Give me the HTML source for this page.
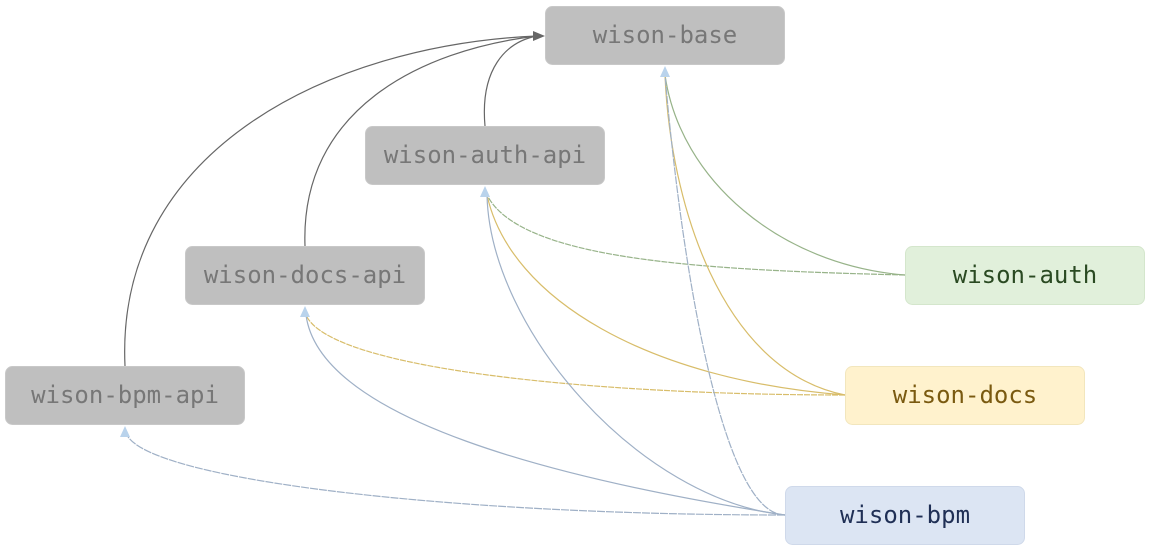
<!DOCTYPE html>
<html><head><meta charset="utf-8"><style>
html,body{margin:0;padding:0;background:#fff;width:1150px;height:550px;overflow:hidden}
text{font-family:"DejaVu Sans Mono","Liberation Mono",monospace;font-size:24px;text-anchor:middle;dominant-baseline:central}
</style></head><body>
<svg width="1150" height="550" viewBox="0 0 1150 550" xmlns="http://www.w3.org/2000/svg">
<g fill="none" stroke-width="1.2">
<path d="M125,366 C115,150 330,45 537,36" stroke="#666"/>
<path d="M305,246 C300,110 420,50 537,36" stroke="#666"/>
<path d="M485,126 C480,70 505,42 537,36" stroke="#666"/>
<path d="M905,275 C780,265 680,180 665,75" stroke="#97b389"/>
<path d="M905,275 C700,270 520,260 487,195" stroke="#97b389" stroke-dasharray="6,1"/>
<path d="M845,395 C720,370 670,200 665,75" stroke="#d8bd6a"/>
<path d="M845,395 C650,380 510,300 487,195" stroke="#d8bd6a"/>
<path d="M845,395 C600,395 330,370 306,315" stroke="#d8bd6a" stroke-dasharray="6,1"/>
<path d="M785,515 C720,515 680,250 665,75" stroke="#9fb0c6" stroke-dasharray="8,1"/>
<path d="M785,515 C640,500 490,330 487,195" stroke="#9fb0c6"/>
<path d="M785,515 C560,480 320,420 306,315" stroke="#9fb0c6"/>
<path d="M785,515 C450,515 150,480 127,435" stroke="#9fb0c6" stroke-dasharray="8,1"/>
</g>
<polygon points="545,36 533,31 533,41" fill="#666"/>
<g fill="#b9d3ec">
<polygon points="665,66 660,77 670,77"/>
<polygon points="485,186 480,197 490,197"/>
<polygon points="305,306 300,317 310,317"/>
<polygon points="125,426 120,437 130,437"/>
</g>
<rect x="545.5" y="6.5" width="239" height="58" rx="7" fill="#bfbfbf" stroke="#c8c8c8"/>
<text x="665" y="35" fill="#777">wison-base</text>
<rect x="365.5" y="126.5" width="239" height="58" rx="7" fill="#bfbfbf" stroke="#c8c8c8"/>
<text x="485" y="155" fill="#777">wison-auth-api</text>
<rect x="185.5" y="246.5" width="239" height="58" rx="7" fill="#bfbfbf" stroke="#c8c8c8"/>
<text x="305" y="275" fill="#777">wison-docs-api</text>
<rect x="5.5" y="366.5" width="239" height="58" rx="7" fill="#bfbfbf" stroke="#c8c8c8"/>
<text x="125" y="395" fill="#777">wison-bpm-api</text>
<rect x="905.5" y="246.5" width="239" height="58" rx="7" fill="#e1f0db" stroke="#d4e6cc"/>
<text x="1025" y="275" fill="#2a4a22">wison-auth</text>
<rect x="845.5" y="366.5" width="239" height="58" rx="7" fill="#fff2cd" stroke="#f2e6bd"/>
<text x="965" y="395" fill="#7a5a10">wison-docs</text>
<rect x="785.5" y="486.5" width="239" height="58" rx="7" fill="#dce5f3" stroke="#cfd9ea"/>
<text x="905" y="515" fill="#1f2f55">wison-bpm</text>
</svg>
</body></html>
